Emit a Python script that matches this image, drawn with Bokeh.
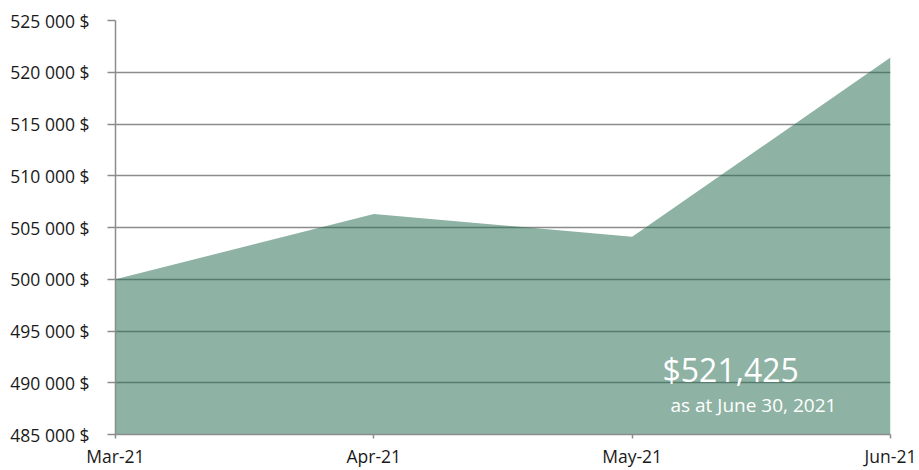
from bokeh.plotting import figure
from bokeh.models import Range1d, FixedTicker, Label
from bokeh.embed import file_html
from bokeh.resources import INLINE

months = ["Mar-21", "Apr-21", "May-21", "Jun-21"]
values = [500000, 506300, 504100, 521425]
y_ticks = [485000, 490000, 495000, 500000, 505000, 510000, 515000, 520000, 525000]
y_tick_labels = ["485 000 $", "490 000 $", "495 000 $", "500 000 $", "505 000 $",
                 "510 000 $", "515 000 $", "520 000 $", "525 000 $"]
headline = "$521,425"
subline = "as at June 30, 2021"

FONT = "Open Sans"
x = list(range(len(months)))

p = figure(width=919, height=470, output_backend="svg", toolbar_location=None,
           x_range=Range1d(0, len(months) - 1), y_range=Range1d(y_ticks[0], y_ticks[-1]),
           min_border_left=115, min_border_right=29, min_border_top=20, min_border_bottom=33)
p.outline_line_color = None
p.background_fill_color = "white"
p.border_fill_color = "white"

p.varea(x=x, y1=[y_ticks[0]] * len(x), y2=values, fill_color="#276b4e", fill_alpha=0.52)

axis_col = "#8c8c8c"
p.yaxis.ticker = FixedTicker(ticks=y_ticks)
p.yaxis.major_label_overrides = {t: l for t, l in zip(y_ticks, y_tick_labels)}
p.yaxis.axis_line_color = axis_col
p.yaxis.axis_line_width = 1.5
p.yaxis.major_tick_line_color = axis_col
p.yaxis.major_tick_line_width = 1.5
p.yaxis.major_tick_out = 8
p.yaxis.major_tick_in = 0
p.yaxis.minor_tick_line_color = None
p.yaxis.major_label_text_font = FONT
p.yaxis.major_label_text_font_size = "17.5px"
p.yaxis.major_label_text_color = "#1a1a1a"
p.yaxis.major_label_standoff = 18

p.xaxis.ticker = FixedTicker(ticks=x)
p.xaxis.major_label_overrides = {i: m for i, m in zip(x, months)}
p.xaxis.axis_line_color = axis_col
p.xaxis.axis_line_width = 1.5
p.xaxis.major_tick_line_color = axis_col
p.xaxis.major_tick_line_width = 1.5
p.xaxis.major_tick_out = 4
p.xaxis.major_tick_in = 0
p.xaxis.minor_tick_line_color = None
p.xaxis.major_label_text_font = FONT
p.xaxis.major_label_text_font_size = "17.5px"
p.xaxis.major_label_text_color = "#1a1a1a"
p.xaxis.major_label_standoff = 5

p.xgrid.grid_line_color = None
p.ygrid.ticker = FixedTicker(ticks=y_ticks)
p.ygrid.grid_line_color = axis_col
p.ygrid.grid_line_width = 1.5

p.add_layout(Label(x=547, y=65, x_units="screen", y_units="screen", text=headline,
                   text_font=FONT, text_font_size="32px", text_color="white",
                   text_baseline="alphabetic"))
p.add_layout(Label(x=555, y=30, x_units="screen", y_units="screen", text=subline,
                   text_font=FONT, text_font_size="19px", text_color="white",
                   text_baseline="alphabetic"))

open("out.html", "w").write(file_html(p, INLINE))
